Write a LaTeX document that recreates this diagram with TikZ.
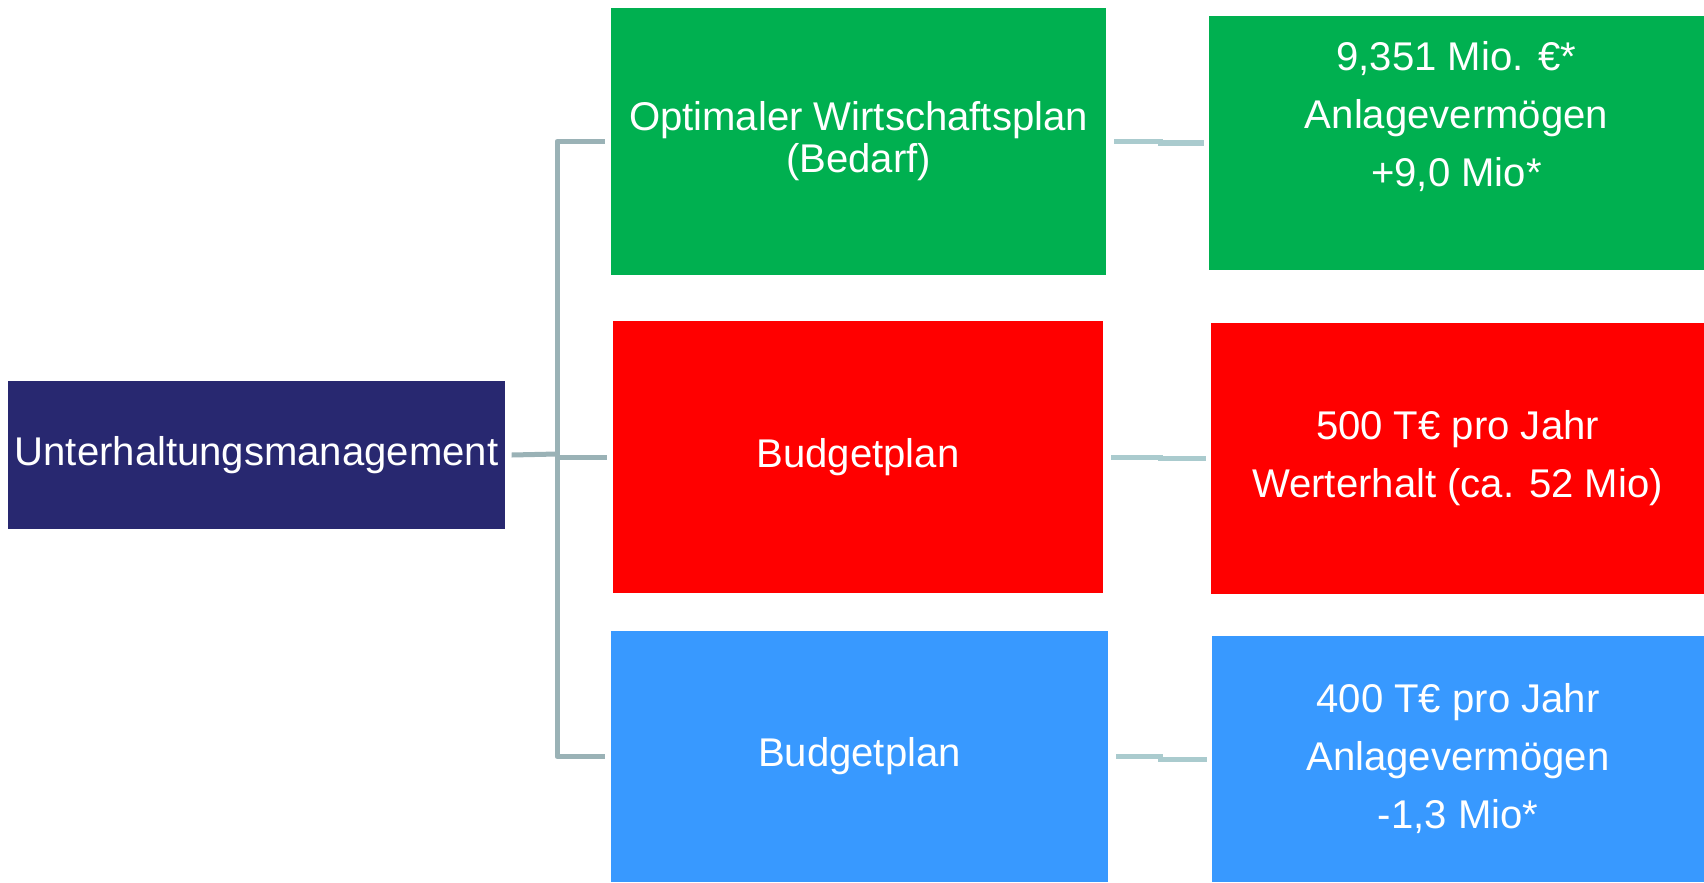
\documentclass[tikz,border=0pt]{standalone}
\usepackage{fontspec}
\setmainfont{Liberation Sans}
\definecolor{navy}{HTML}{282870}
\definecolor{plangreen}{HTML}{00B050}
\definecolor{planred}{HTML}{FF0000}
\definecolor{planblue}{HTML}{3899FF}
\definecolor{treegray}{HTML}{9AB2B6}
\definecolor{linkgray}{HTML}{AACBCE}

\begin{document}
\begin{tikzpicture}[x=0.01cm, y=-0.01cm,
  every node/.style={inner sep=0pt, outer sep=0pt, text=white, align=center, font=\fontsize{11.4}{12}\selectfont},
  valtext/.style={font=\fontsize{11.4}{16.5}\selectfont},
  treeline/.style={draw=treegray, line width=0.05cm, line join=round},
  linkline/.style={draw=linkgray, line width=0.05cm}]
\fill[white] (0,0) rectangle (1704,882);
\useasboundingbox (0,0) rectangle (1704,882);

\node[fill=navy, minimum width=4.96cm, minimum height=1.48cm] (mgmt) at (256.5,455) {Unterhaltungsmanagement};

\node[fill=plangreen, minimum width=4.95cm, minimum height=2.67cm] (opt) at (858.5,141.5) {Optimaler Wirtschaftsplan\\(Bedarf)};
\node[fill=planred, minimum width=4.90cm, minimum height=2.72cm] (bud1) at (858,457) {Budgetplan};
\node[fill=planblue, minimum width=4.97cm, minimum height=2.51cm] (bud2) at (859.5,756.5) {Budgetplan};

\node[fill=plangreen, valtext, minimum width=4.95cm, minimum height=2.54cm] (val1) at (1456.5,143) {9,351 Mio. €*\\Anlagevermögen\\+9,0 Mio*\\~};
\node[fill=planred, valtext, minimum width=4.93cm, minimum height=2.71cm] (val2) at (1457.5,458.5) {500 T€ pro Jahr\\Werterhalt (ca. 52 Mio)};
\node[fill=planblue, valtext, minimum width=4.92cm, minimum height=2.46cm] (val3) at (1458,759) {400 T€ pro Jahr\\Anlagevermögen\\-1,3 Mio*};

\coordinate (fork) at (557,454);
\draw[treeline] ([xshift=0.07cm]mgmt.east) -- (fork);
\draw[treeline] ([xshift=-0.06cm]opt.west) -| (fork) |- ([xshift=-0.06cm]bud2.west);
\draw[treeline] (fork |- bud1.west) -- ([xshift=-0.06cm]bud1.west);

\draw[linkline] ([xshift=0.08cm]opt.east) -- ++(46,0) |- ([xshift=-0.05cm]val1.west);
\draw[linkline] ([xshift=0.08cm]bud1.east) -- ++(49,0) |- ([xshift=-0.05cm]val2.west);
\draw[linkline] ([xshift=0.08cm]bud2.east) -- ++(44,0) |- ([xshift=-0.05cm]val3.west);
\end{tikzpicture}
\end{document}
